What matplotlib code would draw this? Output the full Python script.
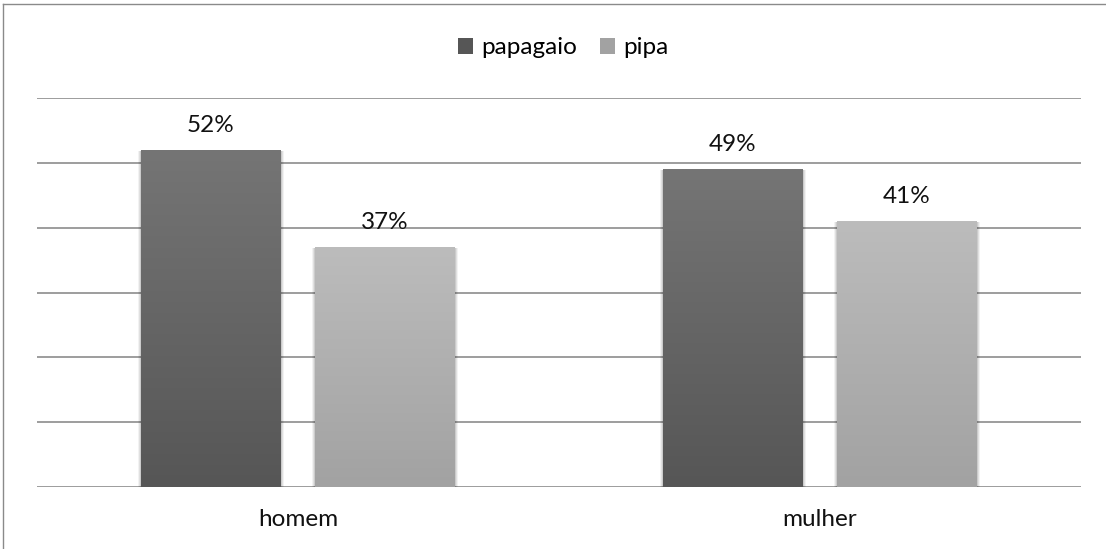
import numpy as np
import matplotlib
matplotlib.use("Agg")
import matplotlib.pyplot as plt
from matplotlib.lines import Line2D
from matplotlib.patches import Patch

categories = ["homem", "mulher"]
series = ["papagaio", "pipa"]
papagaio = [0.52, 0.49]
pipa = [0.37, 0.41]

# gradient colours (top, bottom) per series
grads = {"papagaio": ("#757575", "#565656"), "pipa": ("#bcbcbc", "#a2a2a2")}

plt.rcParams['font.family'] = ['Lato', 'DejaVu Sans']
FS = 17.5

fig = plt.figure(figsize=(11.06, 5.49), dpi=100)
ax = fig.add_axes([37 / 1106, 62 / 549, 1044 / 1106, 389 / 549])

x = np.arange(len(categories))
width = 0.268
offs = [-0.1667, 0.1667]


def grad_bar(ax, xc, h, top, bottom):
    # soft shadow
    for k, a in zip([0.006, 0.004, 0.002], [0.05, 0.07, 0.09]):
        ax.add_patch(plt.Rectangle((xc - width / 2 - k, -0.003), width + 2 * k, h + 0.002,
                                   color="k", alpha=a, lw=0, zorder=2))
    rect = plt.Rectangle((xc - width / 2, 0), width, h, lw=0, zorder=3, facecolor="none")
    ax.add_patch(rect)
    c1 = np.array(matplotlib.colors.to_rgb(top))
    c2 = np.array(matplotlib.colors.to_rgb(bottom))
    t = np.linspace(0, 1, 256)[:, None]
    img = (c1 * (1 - t) + c2 * t)[:, None, :]
    im = ax.imshow(img, extent=(xc - width / 2, xc + width / 2, 0, h), aspect="auto",
                   origin="upper", zorder=3)
    im.set_clip_path(rect)


for vals, name, off in zip([papagaio, pipa], series, offs):
    for xi, v in zip(x, vals):
        grad_bar(ax, xi + off, v, *grads[name])
        ax.text(xi + off, v + 0.028, f"{round(v * 100)}%", ha="center", va="baseline",
                fontsize=FS, color="#111111", zorder=4)

ax.set_xlim(-0.5, 1.5)
ax.set_ylim(0, 0.6)
ax.set_yticks(np.arange(0, 0.61, 0.1))
ax.yaxis.grid(True, color="#8c8c8c", lw=1.2)
ax.set_axisbelow(True)
ax.tick_params(left=False, labelleft=False, bottom=False)
ax.set_xticks(x)
ax.set_xticklabels(categories, fontsize=FS, color="#111111")
ax.tick_params(axis="x", pad=12)
for s in ax.spines.values():
    s.set_visible(False)

handles = [Patch(facecolor=grads[n][1], edgecolor="none") for n in series]
fig.legend(handles, series, loc="center", bbox_to_anchor=(563 / 1106, 1 - 48 / 549), ncol=2,
           frameon=False, fontsize=FS, handlelength=0.62, handleheight=0.62,
           handletextpad=0.33, columnspacing=0.95, borderpad=0, borderaxespad=0)

# outer frame (top and left edges visible)
fig.add_artist(Line2D([3 / 1106, 3 / 1106], [0, 1 - 4 / 549], transform=fig.transFigure,
                      color="#8a8a8a", lw=1))
fig.add_artist(Line2D([3 / 1106, 1], [1 - 4 / 549, 1 - 4 / 549], transform=fig.transFigure,
                      color="#8a8a8a", lw=1))

fig.savefig("out.png", dpi=100)
